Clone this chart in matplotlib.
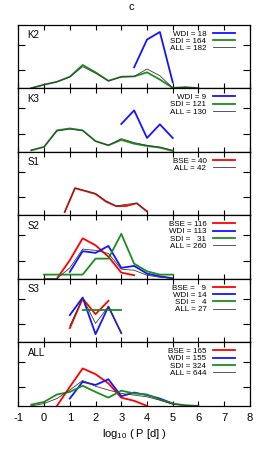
import numpy as np
import matplotlib
matplotlib.use('Agg')
import matplotlib.pyplot as plt

plt.rcParams['font.family'] = ['Liberation Sans', 'DejaVu Sans']
plt.rcParams['mathtext.default'] = 'regular'
plt.rcParams['axes.unicode_minus'] = False

# half-decade bins (log10 P)
xh = [-0.5, 0, 0.5, 1, 1.5, 2, 2.5, 3, 3.5, 4, 4.5, 5, 5.5, 6]

# K2
k2_wdi_x = [3.5, 4, 4.5, 5]
k2_wdi = [0.333, 0.77, 0.89, 0.095]
k2_sdi_x = xh
k2_sdi = [0.005, 0.06, 0.105, 0.185, 0.37, 0.254, 0.12, 0.185, 0.19, 0.254, 0.14, 0.01, 0.02, 0.005]
k2_all_x = xh
k2_all = [0.005, 0.06, 0.105, 0.18, 0.344, 0.24, 0.12, 0.18, 0.19, 0.307, 0.2, 0.01, 0.02, 0.005]

# K3
k3_wdi_x = [3, 3.5, 4, 4.5, 5]
k3_wdi = [0.44, 0.655, 0.22, 0.435, 0.22]
k3_sdi_x = xh[:12]
k3_sdi = [0.026, 0.08, 0.34, 0.37, 0.34, 0.17, 0.105, 0.19, 0.13, 0.094, 0.068, 0.016]
k3_all_x = xh[:12]
k3_all = [0.026, 0.08, 0.33, 0.36, 0.335, 0.17, 0.105, 0.21, 0.147, 0.105, 0.078, 0.026]

# S1
s1_x = [0.8, 1.2, 1.6, 2.0, 2.4, 2.8, 3.2, 3.6, 4.0]
s1_bse = [0.052, 0.43, 0.385, 0.339, 0.22, 0.146, 0.15, 0.193, 0.063]
s1_all = [0.052, 0.43, 0.39, 0.345, 0.23, 0.15, 0.175, 0.19, 0.063]

# S2
s2_bse_x = [0.5, 1, 1.5, 2, 2.5, 3, 3.5]
s2_bse = [0.005, 0.295, 0.64, 0.53, 0.35, 0.1, 0.058]
s2_wdi_x = [1, 1.5, 2, 2.5, 3, 3.5, 4, 4.5, 5]
s2_wdi = [0.11, 0.437, 0.41, 0.52, 0.174, 0.205, 0.084, 0.042, 0.01]
s2_sdi_x = [0, 0.5, 1, 1.5, 2, 2.5, 3, 3.5, 4, 4.5, 5]
s2_sdi = [0.068, 0.068, 0.068, 0.068, 0.32, 0.32, 0.71, 0.24, 0.12, 0.068, 0.068]
s2_all_x = [0, 0.5, 1, 1.5, 2, 2.5, 3, 3.5, 4, 4.5, 5]
s2_all = [0.005, 0.005, 0.174, 0.47, 0.45, 0.4, 0.153, 0.137, 0.058, 0.026, 0.01]

# S3
s3_bse_x = [1, 1.5, 2, 2.5]
s3_bse = [0.225, 0.69, 0.445, 0.655]
s3_wdi_x = [1, 1.5, 2, 2.5, 3]
s3_wdi = [0.43, 0.707, 0.13, 0.565, 0.147]
s3_sdi_x = [1.5, 2, 2.5, 3]
s3_sdi = [0.503, 0.503, 0.503, 0.503]
s3_all_x = [1, 1.5, 2, 2.5, 3]
s3_all = [0.26, 0.70, 0.3, 0.565, 0.147]

# ALL
al_bse_x = [0.5, 1, 1.5, 2, 2.5, 3, 3.5, 4]
al_bse = [0, 0.3, 0.59, 0.5, 0.355, 0.13, 0.08, 0]
al_wdi_x = [1, 1.5, 2, 2.5, 3, 3.5, 4, 4.5, 5]
al_wdi = [0.116, 0.38, 0.33, 0.42, 0.153, 0.21, 0.17, 0.116, 0.037]
al_sdi_x = xh
al_sdi = [0.02, 0.063, 0.18, 0.22, 0.317, 0.22, 0.13, 0.24, 0.196, 0.18, 0.1, 0.037, 0.01, 0]
al_all_x = xh
al_all = [0, 0.037, 0.116, 0.25, 0.4, 0.31, 0.25, 0.196, 0.17, 0.143, 0.09, 0.026, 0.005, 0]

panel_names = ['K2', 'K3', 'S1', 'S2', 'S3', 'ALL']
labels = {
    'K2': {'WDI': 'WDI = 18', 'SDI': 'SDI = 164', 'ALL': 'ALL = 182'},
    'K3': {'WDI': 'WDI = 9', 'SDI': 'SDI = 121', 'ALL': 'ALL = 130'},
    'S1': {'BSE': 'BSE = 40', 'ALL': 'ALL = 42'},
    'S2': {'BSE': 'BSE = 116', 'WDI': 'WDI = 113', 'SDI': 'SDI = \u200731', 'ALL': 'ALL = 260'},
    'S3': {'BSE': 'BSE = \u20079', 'WDI': 'WDI = 14', 'SDI': 'SDI = \u20074', 'ALL': 'ALL = 27'},
    'ALL': {'BSE': 'BSE = 165', 'WDI': 'WDI = 155', 'SDI': 'SDI = 324', 'ALL': 'ALL = 644'},
}
series = {
    'K2': {'WDI': (k2_wdi_x, k2_wdi), 'SDI': (k2_sdi_x, k2_sdi), 'ALL': (k2_all_x, k2_all)},
    'K3': {'WDI': (k3_wdi_x, k3_wdi), 'SDI': (k3_sdi_x, k3_sdi), 'ALL': (k3_all_x, k3_all)},
    'S1': {'BSE': (s1_x, s1_bse), 'ALL': (s1_x, s1_all)},
    'S2': {'BSE': (s2_bse_x, s2_bse), 'WDI': (s2_wdi_x, s2_wdi), 'SDI': (s2_sdi_x, s2_sdi), 'ALL': (s2_all_x, s2_all)},
    'S3': {'BSE': (s3_bse_x, s3_bse), 'WDI': (s3_wdi_x, s3_wdi), 'SDI': (s3_sdi_x, s3_sdi), 'ALL': (s3_all_x, s3_all)},
    'ALL': {'BSE': (al_bse_x, al_bse), 'WDI': (al_wdi_x, al_wdi), 'SDI': (al_sdi_x, al_sdi), 'ALL': (al_all_x, al_all)},
}
colors = {'BSE': '#ff0000', 'WDI': '#1414ff', 'SDI': '#1e8c1e', 'ALL': '#3a3a3a'}
widths = {'BSE': 1.3, 'WDI': 1.3, 'SDI': 1.3, 'ALL': 0.6}

fig, axes = plt.subplots(6, 1, sharex=True, figsize=(2.62, 4.51), dpi=100)
fig.subplots_adjust(left=0.070, right=0.954, bottom=0.100, top=0.9446, hspace=0)

for ax, name in zip(axes, panel_names):
    for key, (x, y) in series[name].items():
        ax.plot(x, y, color=colors[key], lw=widths[key], label=labels[name][key])
    ax.legend(loc='upper right', bbox_to_anchor=(0.935, 0.92), frameon=False,
              markerfirst=False, fontsize=5.8, handlelength=2.75, handletextpad=0.78,
              labelspacing=-0.05, borderaxespad=0, borderpad=0)
    ax.text(0.04, 0.84, name, transform=ax.transAxes, fontsize=7, va='center')
    ax.set_ylim(0, 1)
    ax.set_yticks([0.29, 0.69])
    ax.set_yticklabels([])
    ax.tick_params(axis='y', direction='in', left=True, right=True, length=5, width=0.8)
    ax.tick_params(axis='x', direction='in', top=True, bottom=True, length=3.7, width=0.8)
    for s in ax.spines.values():
        s.set_linewidth(0.9)

axes[-1].set_xlim(-1, 8)
axes[-1].set_xticks(range(-1, 9))
axes[-1].tick_params(axis='x', labelsize=8, pad=5)
axes[-1].set_xlabel('log$_{10}$ ( P [d] )', fontsize=8, labelpad=3)
fig.text(0.5, 0.984, 'c', ha='center', va='center', fontsize=8)

fig.savefig('out.png', dpi=100)
